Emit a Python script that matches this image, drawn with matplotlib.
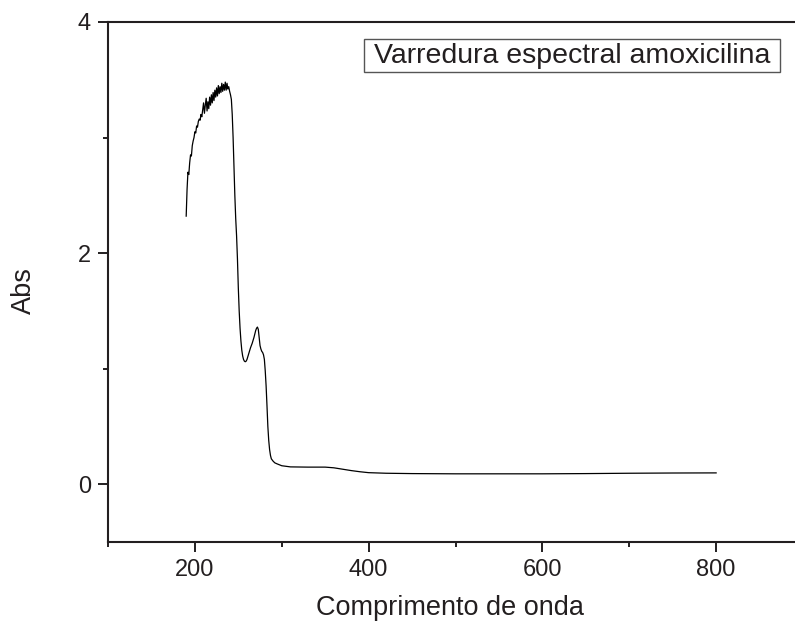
import matplotlib
matplotlib.use("Agg")
import matplotlib.pyplot as plt
from matplotlib.ticker import MultipleLocator
from matplotlib.patches import Rectangle

plt.rcParams['font.family'] = ['Liberation Sans', 'DejaVu Sans']

wavelength = [190, 191, 192, 193, 194, 195, 196, 197, 198, 199,
              200, 201, 202, 203, 204, 205, 206, 207, 208, 209,
              210, 211, 212, 213, 214, 215, 216, 217, 218, 219,
              220, 221, 222, 223, 224, 225, 226, 227, 228, 229,
              230, 231, 232, 233, 234, 235, 236, 237, 238, 239,
              240, 241, 242, 243, 244, 245, 246, 247, 248, 249,
              250, 251, 252, 253, 254, 255, 256, 257, 258, 259,
              260, 262, 264, 266, 268, 270, 271, 272, 273, 274,
              275, 276, 277, 278, 279, 280, 281, 282, 283, 284,
              285, 286, 287, 288, 290, 292, 295, 300, 310, 330,
              350, 360, 370, 380, 390, 400, 420, 450, 500, 600,
              650, 700, 750, 800]
absorbance = [2.32, 2.55, 2.70, 2.68, 2.78, 2.85, 2.84, 2.93, 2.97, 3.00,
              3.05, 3.04, 3.10, 3.09, 3.14, 3.16, 3.15, 3.20, 3.18, 3.24,
              3.30, 3.21, 3.28, 3.34, 3.23, 3.31, 3.25, 3.35, 3.28, 3.37,
              3.30, 3.39, 3.32, 3.41, 3.35, 3.43, 3.36, 3.45, 3.38, 3.44,
              3.39, 3.47, 3.40, 3.46, 3.41, 3.48, 3.41, 3.47, 3.42, 3.44,
              3.40, 3.37, 3.33, 3.20, 3.00, 2.75, 2.50, 2.30, 2.15, 1.95,
              1.70, 1.50, 1.35, 1.24, 1.16, 1.11, 1.08, 1.065, 1.06, 1.065,
              1.08, 1.13, 1.18, 1.22, 1.27, 1.33, 1.35, 1.36, 1.34, 1.27,
              1.20, 1.17, 1.15, 1.14, 1.12, 1.08, 0.98, 0.85, 0.68, 0.50,
              0.38, 0.30, 0.25, 0.22, 0.20, 0.185, 0.175, 0.16, 0.15, 0.148,
              0.148, 0.142, 0.13, 0.118, 0.108, 0.100, 0.095, 0.092, 0.090, 0.090,
              0.092, 0.095, 0.097, 0.098]

legend_text = "Varredura espectral amoxicilina"
x_label = "Comprimento de onda"
y_label = "Abs"

W, H = 795, 625
fig = plt.figure(figsize=(W / 100, H / 100), dpi=100)
left_px, right_px, top_px, bottom_px = 108, 108 + 695, 22, 542
ax = fig.add_axes([left_px / W, 1 - bottom_px / H,
                   (right_px - left_px) / W, (bottom_px - top_px) / H])

ax.plot(wavelength, absorbance, color='black', lw=0.9)

ax.set_xlim(100, 900)
ax.set_ylim(-0.5, 4)
ax.xaxis.set_major_locator(MultipleLocator(200))
ax.xaxis.set_minor_locator(MultipleLocator(100))
ax.yaxis.set_major_locator(MultipleLocator(2))
ax.yaxis.set_minor_locator(MultipleLocator(1))

spine_color = '#231f20'
for s in ['left', 'bottom', 'top']:
    ax.spines[s].set_linewidth(1.5)
    ax.spines[s].set_color(spine_color)
ax.spines['right'].set_visible(False)

ax.tick_params(which='major', direction='out', length=7.2, width=1.4,
               color=spine_color, labelsize=17, pad=5, labelcolor='#231f20')
ax.tick_params(which='minor', direction='out', length=3.6, width=1.4,
               color=spine_color)
ax.tick_params(top=False, right=False, which='both')

ax.set_xlabel(x_label, fontsize=19.5, color='#231f20')
ax.set_ylabel(y_label, fontsize=19.5, color='#231f20')
ax.xaxis.set_label_coords((450 - left_px) / (right_px - left_px),
                          -(595 - bottom_px) / (bottom_px - top_px))
ax.yaxis.set_label_coords(-(108 - 37) / (right_px - left_px),
                          (bottom_px - 291) / (bottom_px - top_px))

# legend box
bx0, bx1, by0, by1 = 364, 780, 39, 72
fig.patches.append(Rectangle((bx0 / W, 1 - by1 / H), (bx1 - bx0) / W, (by1 - by0) / H,
                             transform=fig.transFigure, fc='white', ec='#555555',
                             lw=1.0, zorder=5))
fig.text((bx0 + bx1) / 2 / W, 1 - 56 / H, legend_text, ha='center', va='center',
         fontsize=20.5, color='#231f20', zorder=6)

fig.savefig('out.png', dpi=100)
